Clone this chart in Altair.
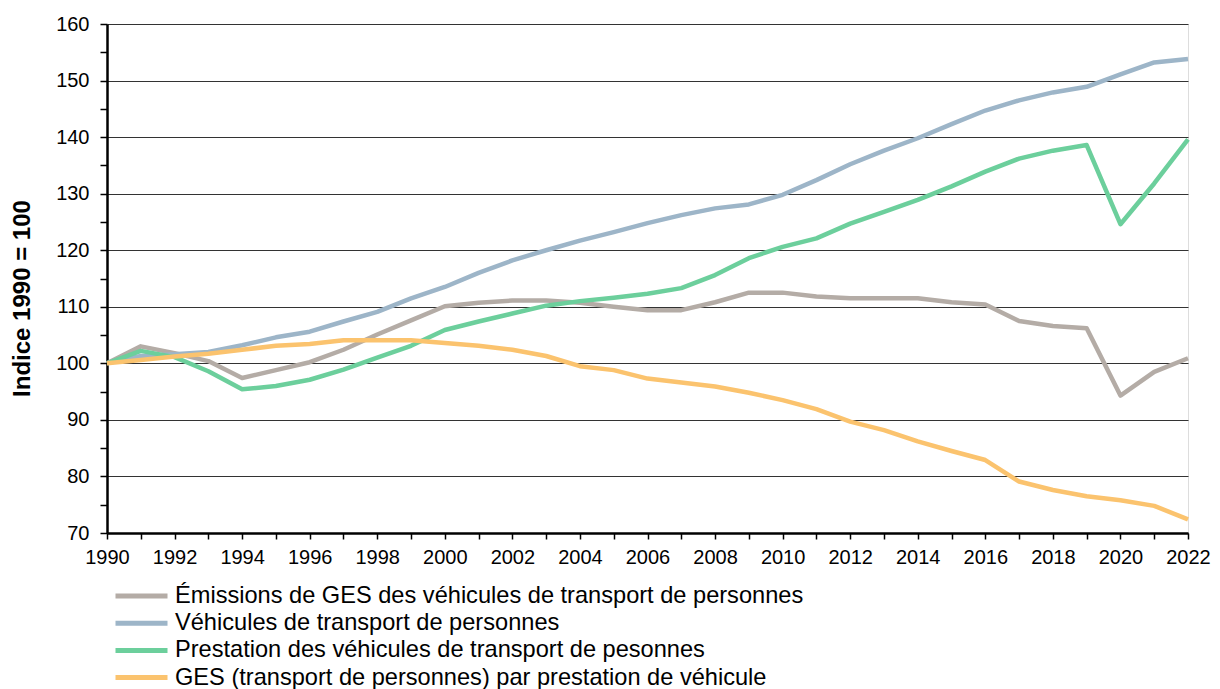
import altair as alt
import pandas as pd

years = list(range(1990, 2023))

series_names = [
    "Émissions de GES des véhicules de transport de personnes",
    "Véhicules de transport de personnes",
    "Prestation des véhicules de transport de pesonnes",
    "GES (transport de personnes) par prestation de véhicule",
]
series_colors = ["#b4aca6", "#9db5c8", "#6ccf9c", "#fbc36e"]

emissions = [100.0, 103.0, 101.8, 100.4, 97.4, 98.8, 100.2, 102.4, 105.1, 107.6,
             110.1, 110.7, 111.1, 111.1, 110.7, 110.0, 109.4, 109.4, 110.8, 112.5,
             112.5, 111.8, 111.5, 111.5, 111.5, 110.8, 110.4, 107.5, 106.6, 106.2,
             94.3, 98.5, 100.9]
vehicules = [100.0, 101.3, 101.6, 102.0, 103.2, 104.6, 105.6, 107.4, 109.1, 111.5,
             113.5, 116.0, 118.2, 120.0, 121.7, 123.2, 124.8, 126.2, 127.4, 128.1,
             129.8, 132.4, 135.2, 137.6, 139.8, 142.3, 144.7, 146.5, 147.9, 148.9,
             151.1, 153.2, 153.8]
prestation = [100.0, 102.2, 101.1, 98.6, 95.4, 96.0, 97.1, 98.9, 101.0, 103.1,
              105.9, 107.4, 108.8, 110.2, 111.0, 111.6, 112.3, 113.3, 115.6, 118.6,
              120.6, 122.1, 124.7, 126.8, 128.9, 131.3, 133.9, 136.2, 137.6, 138.6,
              124.6, 131.8, 139.6]
ges_par_prestation = [100.0, 100.6, 101.2, 101.7, 102.4, 103.1, 103.4, 104.1, 104.1, 104.1,
                      103.6, 103.1, 102.4, 101.3, 99.5, 98.8, 97.3, 96.6, 95.9, 94.8,
                      93.5, 91.9, 89.7, 88.2, 86.2, 84.5, 82.9, 79.1, 77.6, 76.5,
                      75.8, 74.8, 72.4]

x_ticks = list(range(1990, 2023))
y_ticks = list(range(70, 161, 5))

rows = []
for i, (name, vals) in enumerate(zip(series_names, [emissions, vehicules, prestation, ges_par_prestation])):
    for y, v in zip(years, vals):
        rows.append({"annee": y, "valeur": v, "serie": name, "ordre": i})
df = pd.DataFrame(rows)

FONT = "Liberation Sans"

chart = alt.Chart(df).mark_line(strokeWidth=4.5, strokeJoin="round", strokeCap="butt").encode(
    x=alt.X("annee:Q",
            scale=alt.Scale(domain=[1990, 2022], nice=False, zero=False),
            axis=alt.Axis(values=x_ticks, title=None, grid=False,
                          labelExpr="datum.value % 2 == 0 ? '' + datum.value : ''",
                          labelFont=FONT, labelFontSize=20, labelColor="#000",
                          labelPadding=8, labelFlush=False,
                          tickSize=6, tickColor="#000", tickWidth=1.5,
                          domainColor="#000", domainWidth=2.5)),
    y=alt.Y("valeur:Q",
            scale=alt.Scale(domain=[70, 160], nice=False, zero=False),
            axis=alt.Axis(values=y_ticks, title="Indice 1990 = 100",
                          titleFont=FONT, titleFontSize=24, titleFontWeight="bold",
                          titleColor="#000", titleAngle=270, titleAlign="center",
                          titleBaseline="alphabetic", titleX=-78, titleY=274,
                          labelExpr="datum.value % 10 == 0 ? '' + datum.value : ''",
                          labelFont=FONT, labelFontSize=20, labelColor="#000",
                          labelPadding=11, labelFlush=False,
                          tickSize=7, tickColor="#000", tickWidth=1.5,
                          grid=True, gridColor="#333333", gridWidth=1.2,
                          gridOpacity=alt.condition("datum.value % 10 == 0", alt.value(1), alt.value(0)),
                          domainColor="#000", domainWidth=2.5)),
    color=alt.Color("serie:N",
                    scale=alt.Scale(domain=series_names, range=series_colors),
                    legend=alt.Legend(title=None, orient="none", legendX=6, legendY=560,
                                      direction="vertical", symbolType="stroke",
                                      symbolSize=2704, symbolStrokeWidth=5,
                                      clipHeight=24, rowPadding=3.2,
                                      labelFont=FONT, labelFontSize=23.6, labelColor="#000",
                                      labelOffset=5, labelLimit=1000, padding=0)),
    order=alt.Order("ordre:Q"),
    detail="serie:N",
).properties(
    width=1081, height=509,
    autosize=alt.AutoSizeParams(type="none"),
    padding={"left": 99, "top": 16, "right": 24, "bottom": 160},
).configure_view(
    stroke="#000", strokeWidth=2.5
).configure(background="white")

chart.save("out.html", embed_options={"renderer": "svg", "actions": False})
